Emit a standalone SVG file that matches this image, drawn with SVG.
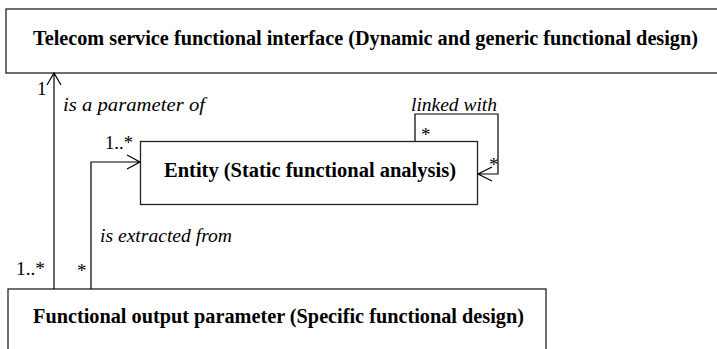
<svg xmlns="http://www.w3.org/2000/svg" width="717" height="349" viewBox="0 0 717 349">
<style>
.box{fill:#fff;stroke:#222;stroke-width:1.3}
text{font-family:"Liberation Serif","Times New Roman",Times,serif;fill:#000}
.t{font-weight:bold;font-size:20px}
.l{font-style:italic;font-size:19px}
.m{font-size:19px}
.c{fill:none;stroke:#000;stroke-width:1.2}
</style>
<rect width="717" height="349" fill="#fff"/>
<g id="interface">
<rect class="box" x="6" y="9" width="720" height="64"/>
<text class="t" x="33" y="45" textLength="665" lengthAdjust="spacingAndGlyphs">Telecom service functional interface (Dynamic and generic functional design)</text>
</g>
<g id="entity">
<rect class="box" x="140.5" y="141.5" width="337" height="63"/>
<text class="t" x="164" y="177" textLength="292" lengthAdjust="spacingAndGlyphs">Entity (Static functional analysis)</text>
</g>
<g id="output">
<rect class="box" x="8" y="289" width="538" height="70"/>
<text class="t" x="33" y="323" textLength="491" lengthAdjust="spacingAndGlyphs">Functional output parameter (Specific functional design)</text>
</g>
<g id="connectors">
<path class="c" d="M54 289 V73 M47 85 L54 73 L61 85"/>
<path class="c" d="M91 289 V162 H140 M127 155 L140 162 L127 169"/>
<path class="c" d="M415 141 V114 H498 V174 H478 M492 167 L478 174 L492 181"/>
<text class="l" x="63" y="111" textLength="142" lengthAdjust="spacingAndGlyphs">is a parameter of</text>
<text class="l" x="411" y="111" textLength="86" lengthAdjust="spacingAndGlyphs">linked with</text>
<text class="l" x="100" y="242" textLength="132" lengthAdjust="spacingAndGlyphs">is extracted from</text>
<text class="m" x="37" y="95">1</text>
<text class="m" x="105" y="149" textLength="28" lengthAdjust="spacingAndGlyphs">1..*</text>
<text class="m" x="421" y="141">*</text>
<text class="m" x="489" y="171">*</text>
<text class="m" x="16" y="275" textLength="29" lengthAdjust="spacingAndGlyphs">1..*</text>
<text class="m" x="77" y="277">*</text>
</g>
</svg>
